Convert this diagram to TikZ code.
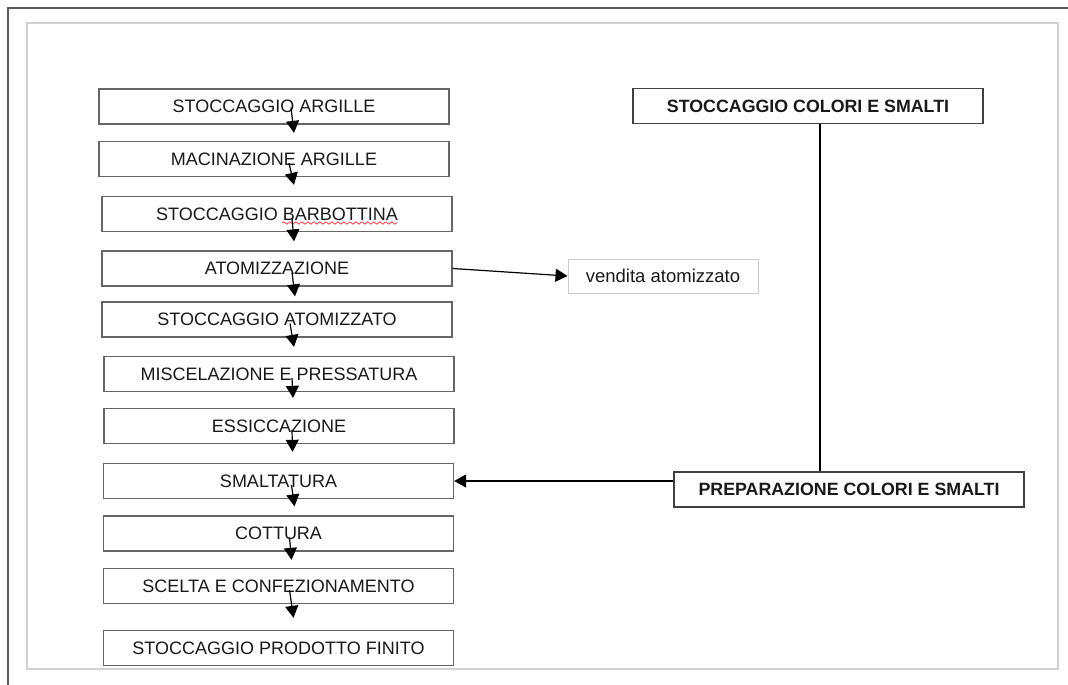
\documentclass[tikz,border=0pt]{standalone}
\usepackage{fontspec}
\setmainfont{Liberation Sans}
\usetikzlibrary{arrows.meta}
\usetikzlibrary{calc}
\usetikzlibrary{decorations.pathmorphing}
\definecolor{framegray}{gray}{0.35}
\definecolor{pagegray}{gray}{0.82}
\definecolor{boxgray}{gray}{0.4}
\definecolor{lightbox}{gray}{0.8}
\definecolor{spellred}{rgb}{0.95,0.25,0.25}
\definecolor{inkgray}{gray}{0.1}

\begin{document}
\begin{tikzpicture}[
            x=1pt, y=-1pt,
            >={Triangle[width=13pt,length=12pt]},
            phase/.style={rectangle, draw=boxgray, line width=1.3pt, minimum width=350pt,
                          minimum height=35pt, inner sep=0pt, text=inkgray,
                          font=\fontsize{18}{20}\selectfont},
            supply/.style={phase, draw=black!75, font=\fontsize{17.8}{20}\selectfont\bfseries},
            outlet/.style={rectangle, draw=lightbox, line width=1pt, minimum width=190pt,
                           minimum height=34pt, inner sep=0pt, text=inkgray,
                           font=\fontsize{18.5}{20}\selectfont},
            flow/.style={->, line width=1.2pt},
            spell/.style={draw=spellred, line width=0.8pt, decorate,
                          decoration={snake, amplitude=1.2pt, segment length=6pt}},
        ]
        \useasboundingbox (0,0) rectangle (1068,685);

        % Page frame
        \draw[framegray, line width=2pt] (8,685) -- (8,8) -- (1068,8);
        \draw[pagegray, line width=1.2pt] (27,23) rectangle (1058,669);

        % Production line (left)
        \node[phase] (argille) at (274, 106.5) {STOCCAGGIO ARGILLE};
        \node[phase] (macinazione) at (274, 159) {MACINAZIONE ARGILLE};
        \node[phase] (barbottina) at (277, 214) {STOCCAGGIO BARBOTTINA};
        \node[phase] (atomizzazione) at (277, 268.5) {ATOMIZZAZIONE};
        \node[phase] (atomizzato) at (277, 319.5) {STOCCAGGIO ATOMIZZATO};
        \node[phase] (pressatura) at (279, 374) {MISCELAZIONE E PRESSATURA};
        \node[phase] (essiccazione) at (279, 426) {ESSICCAZIONE};
        \node[phase] (smaltatura) at (278.5, 481) {SMALTATURA};
        \node[phase] (cottura) at (278.5, 533.5) {COTTURA};
        \node[phase] (scelta) at (278.5, 586) {SCELTA E CONFEZIONAMENTO};
        \node[phase] (prodotto) at (278.5, 648) {STOCCAGGIO PRODOTTO FINITO};

        % Spelling mark under BARBOTTINA
        \draw[spell] ([shift={(5,9)}]barbottina.center) -- ++(115,0);

        % Arrows between the phases
        \draw[flow] ([shift={(17,1)}]argille.center) -- ([shift={(20,-8)}]macinazione.north);
        \draw[flow] ([shift={(15,4)}]macinazione.center) -- ([shift={(17,-11)}]barbottina.north);
        \draw[flow] ([shift={(15,4)}]barbottina.center) -- ([shift={(17,-9)}]atomizzazione.north);
        \draw[flow] ([shift={(15,4)}]atomizzazione.center) -- ([shift={(18,-5)}]atomizzato.north);
        \draw[flow] ([shift={(13,4)}]atomizzato.center) -- ([shift={(15,-9)}]pressatura.north);
        \draw[flow] ([shift={(13,4)}]pressatura.center) -- ([shift={(14,-10)}]essiccazione.north);
        \draw[flow] ([shift={(13,4)}]essiccazione.center) -- ([shift={(14,-11)}]smaltatura.north);
        \draw[flow] ([shift={(13,4)}]smaltatura.center) -- ([shift={(16,-9)}]cottura.north);
        \draw[flow] ([shift={(11,4)}]cottura.center) -- ([shift={(13,-8)}]scelta.north);
        \draw[flow] ([shift={(11,4)}]scelta.center) -- ([shift={(15,-12)}]prodotto.north);

        % Sale of spray-dried powder
        \node[outlet] (vendita) at (663, 276) {vendita atomizzato};
        \draw[flow] (atomizzazione.east) -- (vendita.west);

        % Colours and glazes (right)
        \node[supply] (colori) at (808, 106) {STOCCAGGIO COLORI E SMALTI};
        \node[supply] (preparazione) at (849, 489.5) {PREPARAZIONE COLORI E SMALTI};
        \draw[line width=1.3pt] ([shift={(12,0)}]colori.south) -- ([shift={(12,0)}]colori.south |- preparazione.north);
        \draw[flow] (preparazione.west |- smaltatura) -- (smaltatura.east);

        \end{tikzpicture}
\end{document}
